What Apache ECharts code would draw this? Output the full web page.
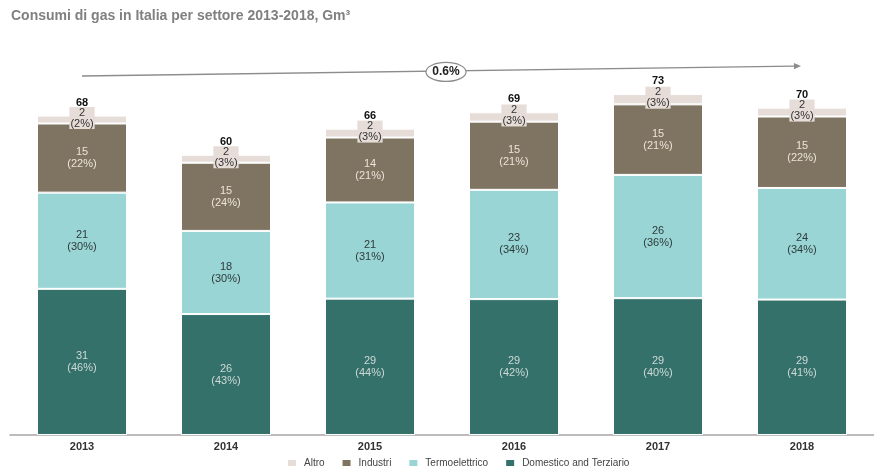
<!DOCTYPE html>
<html>
<head>
<meta charset="utf-8">
<script src="https://cdn.jsdelivr.net/npm/echarts@6/dist/echarts.min.js"></script>
<style>
html,body{margin:0;padding:0;background:#fff;}
#chart{width:874px;height:469px;}
</style>
</head>
<body>
<div id="chart"></div>
<script>
// ---- data (Gm3) ----
const years = ['2013', '2014', '2015', '2016', '2017', '2018'];
const domestico = [31.3, 25.9, 29.2, 29.1, 29.3, 29.0];
const termoelettrico = [20.6, 17.8, 20.6, 23.4, 26.4, 23.9];
const industri = [14.8, 14.6, 13.9, 14.6, 15.1, 15.3];
const altro = [1.7, 1.7, 1.9, 2.0, 2.2, 1.9];
const pctDomestico = [46, 43, 44, 42, 40, 41];
const pctTermo = [30, 30, 31, 34, 36, 34];
const pctIndustri = [22, 24, 21, 21, 21, 22];
const pctAltro = [2, 3, 3, 3, 3, 3];
const totals = [68, 60, 66, 69, 73, 70];
const trendLabel = '0.6%';

const FONT = '"Liberation Sans", Arial, sans-serif';
const COL_DOM = '#33716a', COL_TER = '#99d5d4', COL_IND = '#7f7461', COL_ALT = '#e6dcd8';

function segLabel(pcts, color) {
  return {
    show: true, position: 'inside', color: color, fontSize: 11, lineHeight: 12,
    fontFamily: FONT,
    formatter: p => Math.round(p.value) + '\n(' + pcts[p.dataIndex] + '%)'
  };
}
const itemStyle = c => ({ color: c, borderColor: '#ffffff', borderWidth: 1 });

const chart = echarts.init(document.getElementById('chart'), null, { renderer: 'canvas' });
chart.setOption({
  backgroundColor: '#ffffff',
  animation: false,
  title: {
    text: 'Consumi di gas in Italia per settore 2013-2018, Gm³',
    left: 11, top: 9, padding: 0,
    textStyle: { color: '#808080', fontSize: 14, fontWeight: 'bold', fontFamily: FONT }
  },
  legend: {
    left: 286, top: 458, padding: 0,
    itemWidth: 10, itemHeight: 8, itemGap: 16,
    data: ['Altro', 'Industri', 'Termoelettrico', 'Domestico and Terziario'],
    textStyle: { color: '#444', fontSize: 10, fontFamily: FONT, padding: [0, 0, 0, 2] },
    icon: 'rect'
  },
  grid: { left: 10, right: -8, top: 61.4, bottom: 34 },
  xAxis: {
    type: 'category', data: years,
    axisTick: { show: false },
    axisLine: { lineStyle: { color: '#a6a6a6', width: 1.5 } },
    axisLabel: { color: '#333', fontSize: 11, fontWeight: 'bold', fontFamily: FONT, margin: 6 }
  },
  yAxis: { type: 'value', min: 0, max: 80, show: false, splitLine: { show: false } },
  series: [
    { name: 'Domestico and Terziario', type: 'bar', stack: 's', barWidth: 90, data: domestico,
      itemStyle: itemStyle(COL_DOM), label: segLabel(pctDomestico, '#cfd9d7') },
    { name: 'Termoelettrico', type: 'bar', stack: 's', data: termoelettrico,
      itemStyle: itemStyle(COL_TER), label: segLabel(pctTermo, '#2e3b3b') },
    { name: 'Industri', type: 'bar', stack: 's', data: industri,
      itemStyle: itemStyle(COL_IND), label: segLabel(pctIndustri, '#ebe4d9') },
    { name: 'Altro', type: 'bar', stack: 's', data: altro,
      itemStyle: itemStyle(COL_ALT),
      label: {
        show: true, position: 'inside', offset: [0, -1.5], color: '#333', fontSize: 11, lineHeight: 11,
        fontFamily: FONT, backgroundColor: COL_ALT, padding: [0, 1, 0, 1],
        formatter: p => Math.round(p.value) + '\n(' + pctAltro[p.dataIndex] + '%)'
      } },
    { name: 'Totale', type: 'bar', stack: 's', data: years.map(() => 0),
      itemStyle: { color: 'transparent' },
      label: {
        show: true, position: 'top', distance: 7.5, color: '#111', fontSize: 11, fontWeight: 'bold',
        fontFamily: FONT, formatter: p => String(totals[p.dataIndex])
      } }
  ]
});

// trend arrow annotation from first to last category
const x0 = chart.convertToPixel({ xAxisIndex: 0 }, years[0]);
const x1 = chart.convertToPixel({ xAxisIndex: 0 }, years[years.length - 1]) - 1;
const y0 = 76, y1 = 66;
const ex = 446, ey = y0 + (y1 - y0) * (ex - x0) / (x1 - x0) + 1;
const ang = Math.atan2(y1 - y0, x1 - x0);
const L = 7, W = 3.2;
const bx = x1 - L * Math.cos(ang), by = y1 - L * Math.sin(ang);
chart.setOption({
  graphic: [
    { type: 'line', shape: { x1: x0, y1: y0, x2: bx, y2: by }, style: { stroke: '#8c8c8c', lineWidth: 1.3 }, z: 10 },
    { type: 'polygon', shape: { points: [[x1, y1], [bx - W * Math.sin(ang), by + W * Math.cos(ang)], [bx + W * Math.sin(ang), by - W * Math.cos(ang)]] },
      style: { fill: '#8c8c8c' }, z: 10 },
    { type: 'ellipse', shape: { cx: ex, cy: ey, rx: 20, ry: 9.5 }, style: { fill: '#fff', stroke: '#8c8c8c', lineWidth: 1.2 }, z: 11 },
    { type: 'text', x: ex, y: ey, z: 12,
      style: { text: trendLabel, fill: '#222', font: 'bold 12px ' + FONT, textAlign: 'center', textVerticalAlign: 'middle' } }
  ]
});
</script>
</body>
</html>
